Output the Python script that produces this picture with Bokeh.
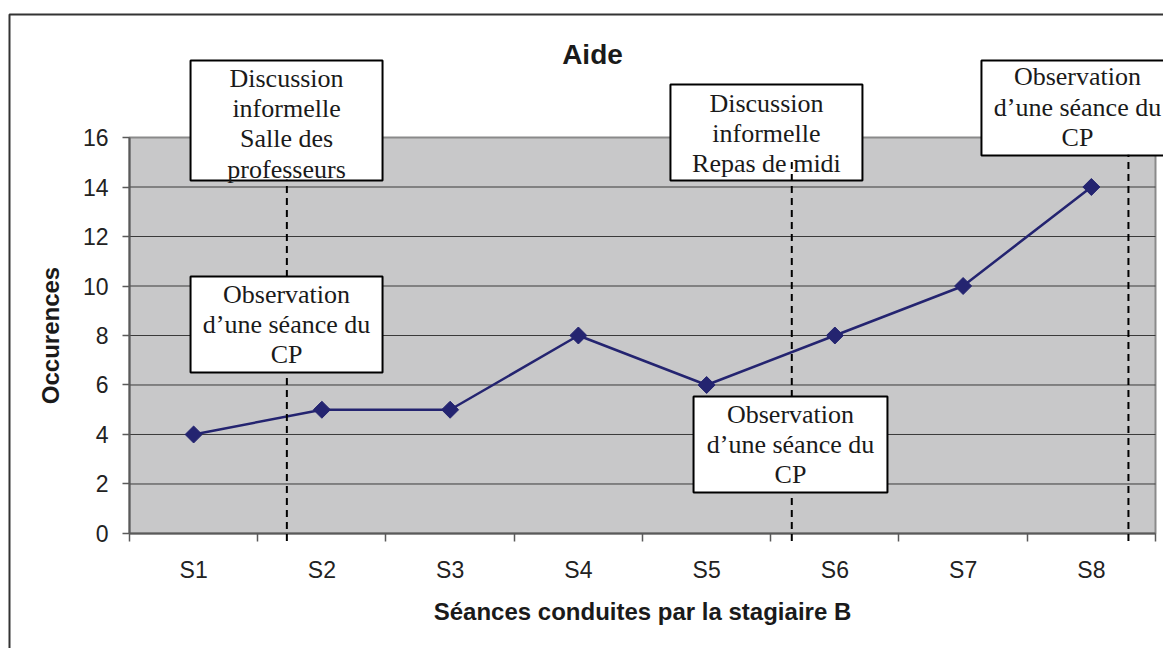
import numpy as np
from bokeh.plotting import figure
from bokeh.models import (Range1d, FixedTicker, BoxAnnotation, Label, Arrow)
from bokeh.embed import file_html
from bokeh.resources import INLINE

# ---- data ----
categories = ["S1", "S2", "S3", "S4", "S5", "S6", "S7", "S8"]
occurrences = [4, 5, 5, 8, 6, 8, 10, 14]
y_ticks = [0, 2, 4, 6, 8, 10, 12, 14, 16]

title_text = "Aide"
x_label = "Séances conduites par la stagiaire B"
y_label = "Occurences"

# event markers (dashed vertical lines) in category units (1 = S1)
event_x = [1.727, 5.664, 8.289]
event_top = [14.3, 15.15, 15.3]
event_bottom = [-0.3, -0.3, -0.3]

# annotation boxes: text and extents (data units)
box_texts = [
    "Discussion\ninformelle\nSalle des\nprofesseurs",
    "Discussion\ninformelle\nRepas de midi",
    "Observation\nd\u2019une séance du\nCP",
    "Observation\nd\u2019une séance du\nCP",
    "Observation\nd\u2019une séance du\nCP",
]
box_left = [0.976, 4.718, 7.143, 0.976, 4.898]
box_right = [2.473, 6.215, 8.640, 2.473, 6.410]
box_top = [19.11, 18.14, 19.11, 10.38, 5.535]
box_bottom = [14.26, 14.26, 15.27, 6.505, 1.657]
text_y = [16.55, 16.15, 17.23, 8.44, 3.6]

x = list(range(1, len(categories) + 1))
x_lo, x_hi = 0.5, len(categories) + 0.5
y_lo, y_hi = y_ticks[0], y_ticks[-1]

SERIF = "Liberation Serif"
SANS = "Liberation Sans"
TXT = "#1a1a1a"
AX = "#5a5a5a"

p = figure(width=1163, height=648,
           min_border_left=0, min_border_right=0,
           min_border_top=0, min_border_bottom=0,
           x_range=Range1d(-0.50585, 8.5624), y_range=Range1d(-4.6465, 21.5354),
           output_backend="svg", toolbar_location=None,
           background_fill_color="white", border_fill_color="white")
p.outline_line_color = None
p.grid.visible = False

# plot area (grey) with light top/right border
p.add_layout(BoxAnnotation(left=x_lo, right=x_hi, top=y_hi, bottom=y_lo,
                           fill_color="#C8C8C9", fill_alpha=1,
                           line_color="#8a8a8a", line_alpha=1, line_width=2,
                           level="underlay"))

# horizontal grid lines
gy = y_ticks[1:-1]
p.segment(x0=[x_lo] * len(gy), x1=[x_hi] * len(gy), y0=gy, y1=gy,
          line_color="#3a3a3a", line_width=1)

# x axis
xa = p.xaxis[0]
xa.fixed_location = y_lo
xa.bounds = (x_lo, x_hi)
xa.ticker = FixedTicker(ticks=x, minor_ticks=[v - 0.5 for v in x] + [x[-1] + 0.5])
xa.major_label_overrides = {v: c for v, c in zip(x, categories)}
xa.major_tick_out = 0
xa.major_tick_in = 0
xa.minor_tick_out = 8
xa.minor_tick_in = 0
xa.minor_tick_line_color = AX
xa.minor_tick_line_width = 1.5
xa.major_label_standoff = 16
xa.axis_label = x_label
xa.axis_label_standoff = 11

# y axis
ya = p.yaxis[0]
ya.fixed_location = x_lo
ya.bounds = (y_lo, y_hi)
ya.ticker = FixedTicker(ticks=y_ticks)
ya.major_tick_out = 7
ya.major_tick_in = 0
ya.minor_tick_out = 0
ya.minor_tick_in = 0
ya.major_tick_line_color = AX
ya.major_tick_line_width = 1.5
ya.major_label_standoff = 14
ya.axis_label = y_label
ya.axis_label_standoff = 16

for ax in (xa, ya):
    ax.axis_line_color = AX
    ax.axis_line_width = 2
    ax.major_label_text_font = SANS
    ax.major_label_text_font_size = "23px"
    ax.major_label_text_color = "#222222"
    ax.axis_label_text_font = SANS
    ax.axis_label_text_font_size = "24px"
    ax.axis_label_text_font_style = "bold"
    ax.axis_label_text_color = TXT

# data line
p.line(x, occurrences, line_color="#242470", line_width=2.5)
p.scatter(x, occurrences, marker="square", angle=np.pi / 4, size=12,
          fill_color="#242470", line_color="#242470")

# outer chart frame
p.add_layout(BoxAnnotation(left=-0.4357, right=9.5, top=20.97, bottom=-6,
                           fill_alpha=0, line_color="#333333", line_alpha=1,
                           line_width=2))

# title
p.add_layout(Label(x=4.11, y=19.35, text=title_text, text_align="center",
                   text_baseline="middle", text_font=SANS, text_font_size="28px",
                   text_font_style="bold", text_color=TXT))

def add_box(i):
    p.add_layout(BoxAnnotation(left=box_left[i], right=box_right[i],
                               top=box_top[i], bottom=box_bottom[i],
                               fill_color="white", fill_alpha=1,
                               line_color="black", line_alpha=1, line_width=2))
    p.add_layout(Label(x=(box_left[i] + box_right[i]) / 2, y=text_y[i],
                       text=box_texts[i], text_align="center",
                       text_baseline="middle", text_font=SERIF,
                       text_font_size="26px", text_line_height=1.04,
                       text_color=TXT))

for i in (0, 1, 2):
    add_box(i)

for ex, et, eb in zip(event_x, event_top, event_bottom):
    p.add_layout(Arrow(x_start=ex, y_start=eb, x_end=ex, y_end=et, end=None,
                       line_color="black", line_width=2, line_dash="7 5"))

for i in (3, 4):
    add_box(i)

open("out.html", "w").write(file_html(p, INLINE))
